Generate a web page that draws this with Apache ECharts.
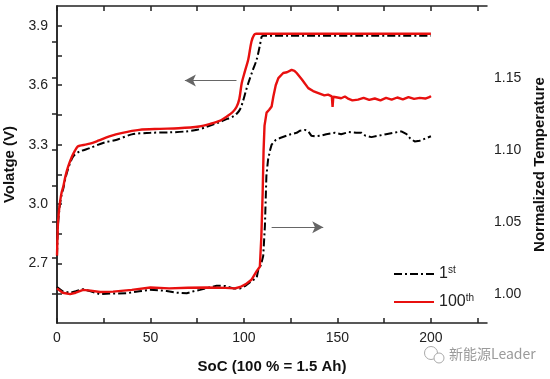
<!DOCTYPE html>
<html><head><meta charset="utf-8">
<script src="https://cdn.jsdelivr.net/npm/echarts@6/dist/echarts.min.js"></script>
<style>html,body{margin:0;padding:0;background:#fff}#c{width:550px;height:379px}</style>
</head><body><div id="c"></div>
<script>
// ---- data ----
var socV100 = [0,0.5,1,1.6,2.5,3.4,4.5,6,8,9.6,11,12.3,15,17.6,22,28,35,44,55,65,76,82,87,91,94,96,97.5,98.8,100.5,102.3,104,105.5,106.5,200];
var volt100 = [2.74,2.90,2.96,3.01,3.06,3.09,3.14,3.19,3.24,3.27,3.29,3.295,3.30,3.305,3.32,3.342,3.36,3.375,3.38,3.383,3.392,3.405,3.42,3.443,3.465,3.49,3.53,3.61,3.67,3.73,3.82,3.855,3.86,3.86];
var socV1 = [0,0.5,1,1.6,2.5,3.4,4.5,6,8,9.6,12,17.6,25,32,40,50,60,69,75,80,86,91,94.3,96.5,98,99.5,101,102.3,104.5,106.8,108.5,109.5,110.5,200];
var volt1 = [2.74,2.89,2.95,3.0,3.05,3.08,3.13,3.18,3.23,3.25,3.265,3.283,3.31,3.325,3.352,3.36,3.362,3.367,3.375,3.39,3.41,3.43,3.443,3.46,3.48,3.52,3.57,3.61,3.67,3.73,3.80,3.845,3.85,3.85];
var socT100 = [0,3,7,10,14,18,23,30,40,50,60,70,80,90,95,98,101,104,106.8,108.5,109.3,110,110.5,111,112.1,113.5,114.8,115.7,117,118.4,121,123,125.5,127,128.2,131,134.4,137,139.8,143,145,147,147.4,147.8,150,152,154,156,158,161,164,167,170,173,176,179,182,185,188,191,194,197,199.5,200];
var temp100 = [1.004,1.001,1.000,1.001,1.003,1.0025,1.0015,1.0018,1.003,1.0046,1.004,1.0045,1.0046,1.0044,1.004,1.005,1.007,1.010,1.016,1.019,1.04,1.07,1.10,1.117,1.126,1.128,1.1303,1.137,1.145,1.15,1.1535,1.154,1.1557,1.155,1.1535,1.149,1.143,1.141,1.1396,1.138,1.1385,1.1373,1.130,1.137,1.1365,1.136,1.1372,1.1355,1.1345,1.135,1.1362,1.1348,1.1358,1.1345,1.1362,1.135,1.1365,1.1352,1.1368,1.1355,1.1362,1.1358,1.137,1.1375];
var socT1 = [0,3,7,10,14,18,23,30,37,44,49.7,54,58.7,64,69.4,73,76.5,81,85.4,90,94.3,98,101,104,106.8,107.7,109,110.3,111.2,112,112.9,114,114.8,117,119.3,121.9,125,128.2,130,132.6,134.4,136,138,141,144,148.7,152,156,160,162.9,165,168.2,172,176,180,184.2,187,189,191.3,194,197,200];
var temp1 = [1.005,1.002,1.001,1.002,1.0035,1.002,1.000,1.0005,1.0006,1.002,1.003,1.0028,1.0022,1.001,1.0006,1.002,1.003,1.0045,1.0059,1.0057,1.004,1.004,1.006,1.009,1.0115,1.0172,1.02,1.0265,1.047,1.082,1.0934,1.10,1.1038,1.107,1.1084,1.1096,1.111,1.112,1.1135,1.114,1.113,1.110,1.1096,1.110,1.111,1.112,1.111,1.1125,1.112,1.112,1.110,1.109,1.110,1.111,1.112,1.113,1.111,1.108,1.106,1.1065,1.108,1.1096];
var xLabels = [0,50,100,150,200];
var xTicks = [0,25,50,75,100,125,150,175,200,225];
var vLabels = [2.7,3.0,3.3,3.6,3.9];
var vTicks = [2.55,2.7,2.85,3.0,3.15,3.3,3.45,3.6,3.75,3.9];
var tLabels = [1.00,1.05,1.10,1.15];
var tTicks = [1.0,1.025,1.05,1.075,1.1,1.125,1.15,1.175];
var arrowLeft = [[96,3.624],[68.4,3.624]];
var arrowRight = [[114.8,1.0465],[142.4,1.0465]];

function pairs(xs, ys){ return xs.map(function(x,i){ return [x, ys[i]]; }); }

var FONT = '"Liberation Sans", Arial, sans-serif';
var axisLineStyle = {color:'#222', width:1.5};
var chart = echarts.init(document.getElementById('c'), null, {renderer:'canvas'});
var dashDot = [8,3,2,3];
chart.setOption({
  animation:false,
  backgroundColor:'#fff',
  grid:{left:57, right:63, top:6, bottom:56, containLabel:false, outerBoundsMode:'none'},
  legend:{
    orient:'vertical', left:388, top:260, itemWidth:40, itemHeight:12, itemGap:11,
    itemStyle:{opacity:0},
    data:['1st','100th'],
    formatter:function(n){ return n==='1st' ? '{a|1}{b|st}' : '{a|100}{b|th}'; },
    textStyle:{fontFamily:FONT, color:'#222', rich:{a:{fontSize:16, fontFamily:FONT, color:'#222'}, b:{fontSize:10, fontFamily:FONT, color:'#222', verticalAlign:'top', padding:[0,0,8,0]}}}
  },
  xAxis:[{
    type:'value', min:0, max:230, position:'bottom',
    name:'SoC (100 % = 1.5 Ah)', nameLocation:'middle', nameGap:36,
    nameTextStyle:{fontFamily:FONT, fontWeight:'bold', fontSize:15, color:'#111'},
    axisLine:{show:true, lineStyle:axisLineStyle},
    axisTick:{show:true, inside:true, length:5, customValues:xTicks, lineStyle:axisLineStyle},
    axisLabel:{customValues:xLabels, fontFamily:FONT, fontSize:14, color:'#222', margin:8},
    splitLine:{show:false}
  },{
    type:'value', min:0, max:230, position:'top',
    axisLine:{show:true, lineStyle:axisLineStyle},
    axisTick:{show:true, inside:true, length:5, customValues:xTicks, lineStyle:axisLineStyle},
    axisLabel:{show:false}, splitLine:{show:false}
  }],
  yAxis:[{
    type:'value', min:2.4, max:4.0, position:'left',
    name:'Volatge (V)', nameLocation:'middle', nameGap:39, nameRotate:90,
    nameTextStyle:{fontFamily:FONT, fontWeight:'bold', fontSize:15, color:'#111'},
    axisLine:{show:true, lineStyle:axisLineStyle},
    axisTick:{show:true, inside:false, length:-5, customValues:vTicks, lineStyle:axisLineStyle},
    axisLabel:{customValues:vLabels, formatter:function(v){return v.toFixed(1);}, fontFamily:FONT, fontSize:14, color:'#222', margin:9},
    splitLine:{show:false}
  },{
    type:'value', min:0.98, max:1.2, position:'right',
    name:'Normalized Temperature', nameLocation:'middle', nameGap:42, nameRotate:90,
    nameTextStyle:{fontFamily:FONT, fontWeight:'bold', fontSize:15, color:'#111'},
    axisLine:{show:true, lineStyle:axisLineStyle},
    axisTick:{show:true, inside:false, length:-5, customValues:tTicks, lineStyle:axisLineStyle},
    axisLabel:{customValues:tLabels, formatter:function(v){return v.toFixed(2);}, fontFamily:FONT, fontSize:14, color:'#222', margin:7},
    splitLine:{show:false}
  }],
  series:[
    {name:'1st', type:'line', yAxisIndex:0, data:pairs(socV1, volt1), symbol:'none', smooth:0.3, color:'#000',
     lineStyle:{color:'#000', width:2, type:dashDot},
     markLine:{silent:true, symbol:['none','arrow'], symbolSize:[9,11], label:{show:false},
       lineStyle:{color:'#666', width:1.2, type:'solid'},
       data:[[{coord:arrowLeft[0]},{coord:arrowLeft[1]}]]}},
    {name:'100th', type:'line', yAxisIndex:0, data:pairs(socV100, volt100), symbol:'none', smooth:0.3, color:'#e8100f',
     lineStyle:{color:'#e8100f', width:2.4}},
    {name:'1st', type:'line', yAxisIndex:1, data:pairs(socT1, temp1), symbol:'none', color:'#000',
     lineStyle:{color:'#000', width:2, type:dashDot},
     markLine:{silent:true, symbol:['none','arrow'], symbolSize:[9,11], label:{show:false},
       lineStyle:{color:'#666', width:1.2, type:'solid'},
       data:[[{coord:arrowRight[0]},{coord:arrowRight[1]}]]}},
    {name:'100th', type:'line', yAxisIndex:1, data:pairs(socT100, temp100), symbol:'none', color:'#e8100f',
     lineStyle:{color:'#e8100f', width:2.4}}
  ],
  graphic:[
    {type:'text', left:449, top:347, style:{text:'新能源Leader', fontFamily:'"Noto Sans CJK SC", sans-serif', fontSize:14, fill:'#9a9a9a'}},
    {type:'circle', shape:{cx:431, cy:353, r:6.5}, style:{fill:'none', stroke:'#aaa', lineWidth:1}},
    {type:'circle', shape:{cx:439, cy:358, r:5}, style:{fill:'#fff', stroke:'#aaa', lineWidth:1}}
  ]
});
</script></body></html>
